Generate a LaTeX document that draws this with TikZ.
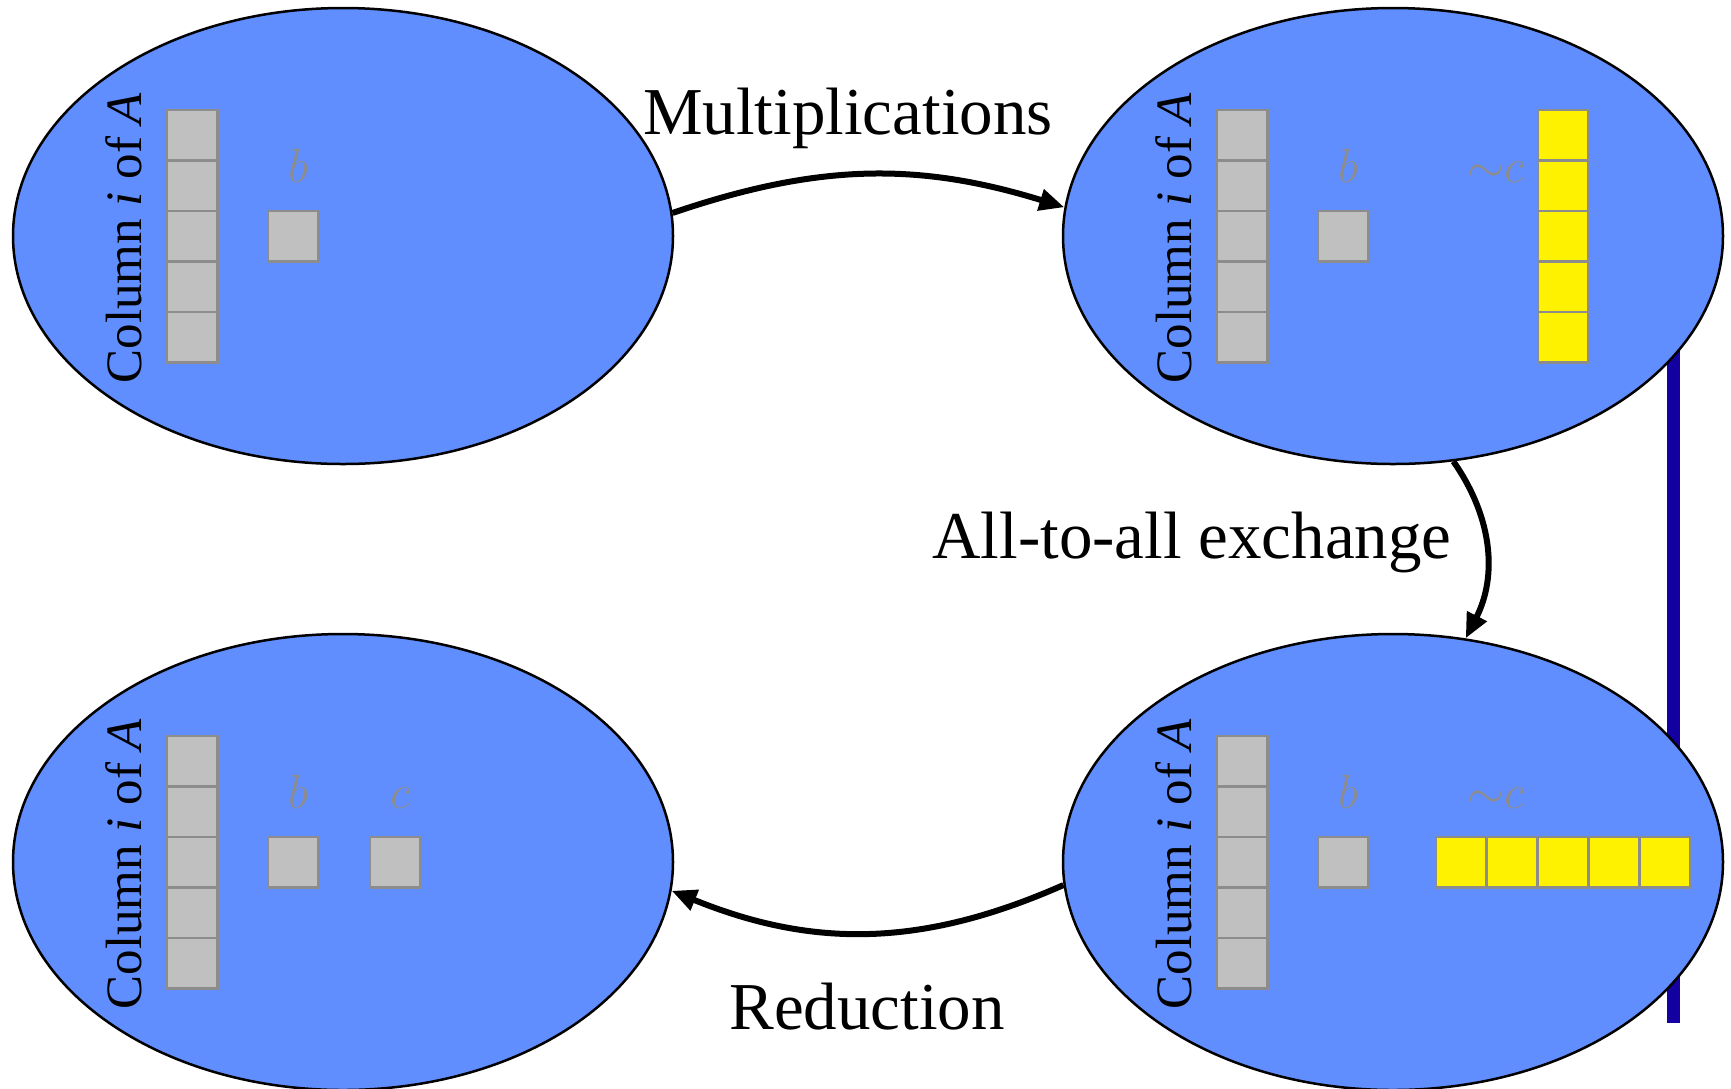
\RequirePackage{fix-cm}
\documentclass[tikz,border=0pt]{standalone}
\usepackage{fontspec}
\setmainfont{Liberation Serif}
\usetikzlibrary{shapes.geometric,arrows.meta}
\definecolor{procblue}{RGB}{97,142,255}
\definecolor{linkblue}{RGB}{20,0,160}
\definecolor{cellgray}{RGB}{192,192,192}
\definecolor{edgegray}{RGB}{140,140,140}
\definecolor{labelgray}{RGB}{140,140,140}

% column of A (five stacked cells), the scalar b and its label, around a process
\newcommand\columnparts[1]{%
  \begin{scope}[shift={(#1.center)}]
    \foreach \k in {-2,...,2}
      \node[cell] (#1-a\k) at (-151,\k*50.5) {};
    \node[collabel] (#1-alabel) at (-219,2) {Column \textit{i} of \textit{A}};
    \node[cell] (#1-b) at (-50,0) {};
    \node[varlabel] (#1-blabel) at (-45,-54) {$b$};
  \end{scope}}

\begin{document}
\begin{tikzpicture}[x=1pt,y=-1pt,
  proc/.style={ellipse, draw=black, line width=2.5pt, fill=procblue,
    minimum width=660pt, minimum height=456pt, inner sep=0pt},
  cell/.style={draw=edgegray, line width=2.5pt, fill=cellgray,
    minimum width=50.5pt, minimum height=50.5pt, inner sep=0pt},
  ycell/.style={cell, fill=yellow},
  flow/.style={line width=6pt, -{Triangle[length=25pt,width=21pt]}},
  caption/.style={font=\fontsize{67}{80}\selectfont, inner sep=0pt, anchor=base},
  collabel/.style={font=\fontsize{51}{60}\selectfont, rotate=90, inner sep=0pt},
  varlabel/.style={font=\fontsize{48}{58}\selectfont, text=labelgray,
    inner sep=0pt, anchor=base}]

\useasboundingbox (0,0) rectangle (1731,1088);
\fill[white] (0,0) rectangle (1731,1088);

% connecting bar, running behind the two right-hand processes
\coordinate (barTop) at (1673.5,300);
\coordinate (barBot) at (1673.5,1023);
\draw[linkblue, line width=13pt] (barTop) -- (barBot);

% the four process states
\node[proc] (TL) at (343,236) {};
\node[proc] (TR) at (1393,236) {};
\node[proc] (BR) at (1393,862) {};
\node[proc] (BL) at (343,862) {};

\columnparts{TL}
\columnparts{TR}
\columnparts{BR}
\columnparts{BL}

% partial results ~c as a column (after multiplying)
\begin{scope}[shift={(TR.center)}]
  \foreach \k in {-2,...,2}
    \node[ycell] (TR-c\k) at (170,\k*50.5) {};
  \node[varlabel] (TR-clabel) at (103,-54) {${\sim}c$};
\end{scope}

% partial results ~c as a row (after the exchange)
\begin{scope}[shift={(BR.center)}]
  \foreach \k in {-2,...,2}
    \node[ycell] (BR-c\k) at (170+\k*50.8,0) {};
  \node[varlabel] (BR-clabel) at (103,-54) {${\sim}c$};
\end{scope}

% reduced result c
\begin{scope}[shift={(BL.center)}]
  \node[cell] (BL-c) at (52,0) {};
  \node[varlabel] (BL-clabel) at (58,-54) {$c$};
\end{scope}

% transitions
\draw[flow] (TL.4.5) to[bend left=18] (TR.175.5);
\draw[flow] (TR.-75) to[bend left=31] (BR.72);
\draw[flow] (BR.184) to[bend left=23] (BL.-5);

\node[caption] (mult) at (848,134) {Multiplications};
\node[caption] (alltoall) at (1192,558) {All-to-all exchange};
\node[caption] (reduce) at (867,1029) {Reduction};
\end{tikzpicture}
\end{document}
